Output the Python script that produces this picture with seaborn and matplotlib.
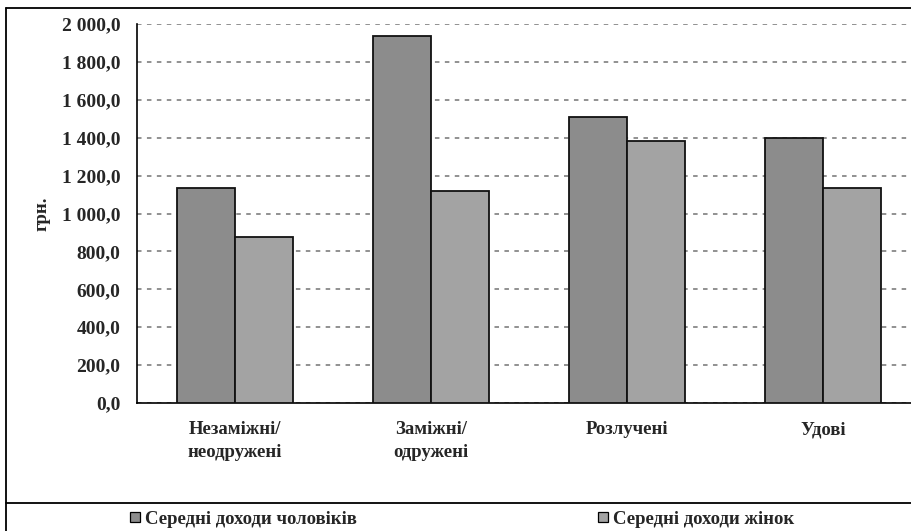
import numpy as np
import pandas as pd
import seaborn as sns
import matplotlib.pyplot as plt
from matplotlib.lines import Line2D
from matplotlib.ticker import FuncFormatter

categories = ["Незаміжні/\nнеодружені", "Заміжні/\nодружені", "Розлучені", "Удові"]
men = [1136, 1937, 1511, 1400]
women = [876, 1120, 1381, 1136]
series = ["Середні доходи чоловіків", "Середні доходи жінок"]
colors = ["#8c8c8c", "#a3a3a3"]

df = pd.DataFrame({
    "cat": categories * 2,
    "value": men + women,
    "series": [series[0]] * 4 + [series[1]] * 4,
})

sns.set_style("white")
plt.rcParams['font.family'] = ['Liberation Serif', 'DejaVu Serif']
plt.rcParams['font.weight'] = 'bold'

fig = plt.figure(figsize=(9.12, 5.31), dpi=100)
ax = fig.add_axes([137 / 912, 1 - 403 / 531, 784 / 912, 379 / 531])

sns.barplot(data=df, x="cat", y="value", hue="series", palette=colors,
            width=0.587, gap=0, edgecolor="#111111", linewidth=1.3,
            ax=ax, legend=False, zorder=3)

ax.set_ylim(0, 2000)
ax.set_xlim(-0.5, 3.5)
ax.set_yticks(np.arange(0, 2001, 200))
ax.yaxis.set_major_formatter(FuncFormatter(
    lambda v, p: f"{v:,.1f}".replace(",", " ").replace(".", ",")))
ax.yaxis.grid(True, color="#888888", linestyle=(0, (2.5, 3)), linewidth=1.3, zorder=0)
for s in ["top", "right"]:
    ax.spines[s].set_visible(False)
for s in ["left", "bottom"]:
    ax.spines[s].set_color("black")
    ax.spines[s].set_linewidth(1.2)

ax.set_xticks([-0.5, 0.5, 1.5, 2.5, 3.5])
ax.set_xticklabels([])
ax.set_xticks(range(len(categories)), minor=True)
ax.set_xticklabels(categories, minor=True, fontsize=13.5, fontweight="bold",
                   linespacing=1.45)
ax.tick_params(axis="x", which="major", direction="out", length=5, width=1, color="black")
ax.tick_params(axis="x", which="minor", length=0, pad=13)
ax.tick_params(axis="y", direction="out", length=8, width=1, color="black",
               labelsize=14, pad=4)
for t in ax.get_yticklabels():
    t.set_fontweight("bold")
ax.set_xlabel("")
ax.set_ylabel("грн.", fontsize=13.5, fontweight="bold", labelpad=8)

# outer frame and legend separator
fig.add_artist(Line2D([6 / 912, 6 / 912], [0, 1 - 8 / 531], color="black", lw=1.3))
fig.add_artist(Line2D([6 / 912, 1], [1 - 8 / 531, 1 - 8 / 531], color="black", lw=1.3))
fig.add_artist(Line2D([6 / 912, 1], [1 - 503 / 531, 1 - 503 / 531], color="black", lw=1.3))

handles = [Line2D([], [], marker="s", linestyle="", markersize=7.5,
                  markerfacecolor=c, markeredgecolor="black", markeredgewidth=0.9)
           for c in colors]
fig.legend(handles, series, loc="center left", bbox_to_anchor=(118 / 912, 1 - 519 / 531),
           ncol=2, frameon=False, handlelength=0.8, handletextpad=0.15,
           columnspacing=12.7, borderpad=0,
           prop={"family": "Liberation Serif", "weight": "bold", "size": 13.5})

fig.savefig("out.png", dpi=100)
